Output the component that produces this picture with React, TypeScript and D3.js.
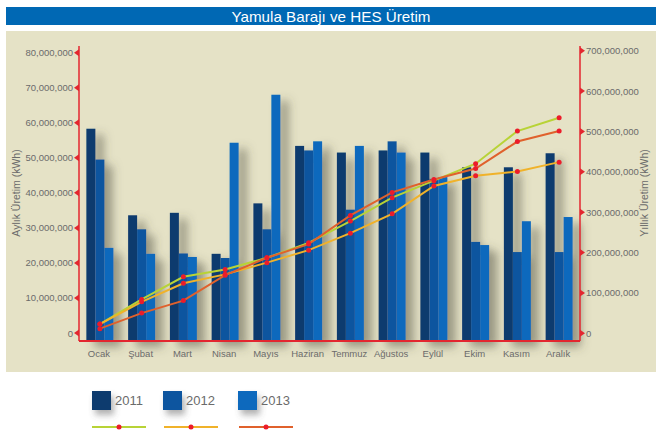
import React from "react";
import * as d3 from "d3";

const months = ["Ocak", "Şubat", "Mart", "Nisan", "Mayıs", "Haziran", "Temmuz", "Ağustos", "Eylül", "Ekim", "Kasım", "Aralık"];
const years = ["2011", "2012", "2013"];
const monthly2011 = [58.3, 33.6, 34.3, 22.6, 37.0, 53.4, 51.5, 52.1, 51.5, 47.3, 47.3, 51.3].map(v => v * 1e6);
const monthly2012 = [49.5, 29.6, 22.7, 21.4, 29.6, 52.1, 35.2, 54.7, 44.0, 26.0, 23.1, 23.1].map(v => v * 1e6);
const monthly2013 = [24.3, 22.6, 21.7, 54.3, 68.0, 54.7, 53.4, 51.5, 44.5, 25.1, 31.9, 33.1].map(v => v * 1e6);
const yearly2011 = [23, 84, 140, 158, 187, 224, 278, 336, 378, 420, 501, 534].map(v => v * 1e6);
const yearly2012 = [23, 78, 124, 146, 175, 206, 248, 296, 365, 390, 401, 424].map(v => v * 1e6);
const yearly2013 = [11.5, 50, 81, 144, 187, 221, 292, 349, 381, 408, 475, 501].map(v => v * 1e6);
const leftTicks = [0, 10e6, 20e6, 30e6, 40e6, 50e6, 60e6, 70e6, 80e6];
const rightTicks = [0, 100e6, 200e6, 300e6, 400e6, 500e6, 600e6, 700e6];

const barColors = ["#0b3a6e", "#0b559f", "#0a69bd"];
const lineColors = ["#b8d336", "#f0b22a", "#e0612c"];
const markerColor = "#ec1c2a";
const axisRed = "#e3262f";
const beige = "#e5e2c6";
const textGray = "#6b6b6b";

export default function App() {
  const left = 79, right = 580, baseY = 341;
  const x = d3.scaleBand<string>().domain(months).range([left, right]).padding(0);
  const yL = d3.scaleLinear().domain([0, 80e6]).range([333, 52.7]);
  const yR = d3.scaleLinear().domain([0, 700e6]).range([333.3, 50.7]);
  const barW = 9;
  const monthly = [monthly2011, monthly2012, monthly2013];
  const yearly = [yearly2011, yearly2012, yearly2013];
  const fmt = d3.format(",");
  const cx = (m: string) => (x(m) as number) + x.bandwidth() / 2;
  const line = d3.line<number>().x((_, i) => cx(months[i])).y(d => yR(d));
  const font = "'Liberation Sans', Arial, Helvetica, sans-serif";

  return (
    <svg width={664} height={434} style={{ position: "absolute", left: 0, top: 0 }} fontFamily={font}>
      <defs>
        <filter id="sh" x="-50%" y="-20%" width="250%" height="150%">
          <feDropShadow dx="8" dy="6" stdDeviation="5" floodColor="#4a4a3a" floodOpacity="0.5" />
        </filter>
        <filter id="sh2" x="-50%" y="-50%" width="250%" height="250%">
          <feDropShadow dx="3" dy="5" stdDeviation="3" floodColor="#555" floodOpacity="0.45" />
        </filter>
      </defs>
      <rect x={0} y={0} width={664} height={434} fill="#ffffff" />
      <rect x={6} y={7} width={650} height={18} fill="#0068b4" />
      <text x={331} y={22} textAnchor="middle" fill="#fff" fontSize={15} textLength={199} lengthAdjust="spacingAndGlyphs">Yamula Barajı ve HES Üretim</text>
      <rect x={6} y={31} width={650} height={341} fill={beige} />

      {/* bars */}
      <g filter="url(#sh)">
        {months.map((m, i) =>
          monthly.map((s, k) => (
            <rect key={m + k} x={cx(m) - 1.5 * barW + k * barW} y={yL(s[i])} width={barW} height={baseY - yL(s[i])} fill={barColors[k]} />
          ))
        )}
      </g>

      {/* axes */}
      <line x1={left} x2={left} y1={46} y2={baseY} stroke={axisRed} strokeWidth={1.5} />
      <line x1={right} x2={right} y1={46} y2={baseY} stroke={axisRed} strokeWidth={1.5} />
      <line x1={left} x2={right} y1={baseY} y2={baseY} stroke={axisRed} strokeWidth={2} />
      {leftTicks.map(t => (
        <g key={"l" + t}>
          <path d={`M${left},${yL(t) - 3.5} L${left - 5},${yL(t)} L${left},${yL(t) + 3.5} Z`} fill={axisRed} />
          <text x={left - 6} y={yL(t) + 3.5} textAnchor="end" fontSize={9.5} fill={textGray}>{fmt(t)}</text>
        </g>
      ))}
      {rightTicks.map(t => (
        <g key={"r" + t}>
          <path d={`M${right},${yR(t) - 3.5} L${right + 5},${yR(t)} L${right},${yR(t) + 3.5} Z`} fill={axisRed} />
          <text x={right + 6} y={yR(t) + 3.5} textAnchor="start" fontSize={9.5} fill={textGray}>{fmt(t)}</text>
        </g>
      ))}
      {months.map(m => (
        <text key={"x" + m} x={cx(m) - 1} y={357} textAnchor="middle" fontSize={9.5} fill={textGray}>{m}</text>
      ))}
      <text transform="translate(20,193) rotate(-90)" textAnchor="middle" fontSize={10.5} fill={textGray}>Aylık Üretim (kWh)</text>
      <text transform="translate(648,193) rotate(-90)" textAnchor="middle" fontSize={10.5} fill={textGray}>Yıllık Üretim (kWh)</text>

      {/* lines */}
      {yearly.map((s, k) => (
        <g key={"line" + k}>
          <path d={line(s) as string} fill="none" stroke={lineColors[k]} strokeWidth={2} />
          {s.map((v, i) => (
            <circle key={i} cx={cx(months[i])} cy={yR(v)} r={2.5} fill={markerColor} />
          ))}
        </g>
      ))}

      {/* legend */}
      {years.map((yName, k) => {
        const sx = [92, 163, 238][k];
        const lx = [92, 164, 239][k];
        return (
          <g key={"lg" + yName}>
            <rect x={sx} y={391} width={19} height={19} fill={barColors[k]} filter="url(#sh2)" />
            <text x={sx + 23} y={405} fontSize={13} fill={textGray}>{yName}</text>
            <line x1={lx} x2={lx + 54} y1={427} y2={427} stroke={lineColors[k]} strokeWidth={2} />
            <circle cx={lx + 27} cy={427} r={2.5} fill={markerColor} />
          </g>
        );
      })}
    </svg>
  );
}
